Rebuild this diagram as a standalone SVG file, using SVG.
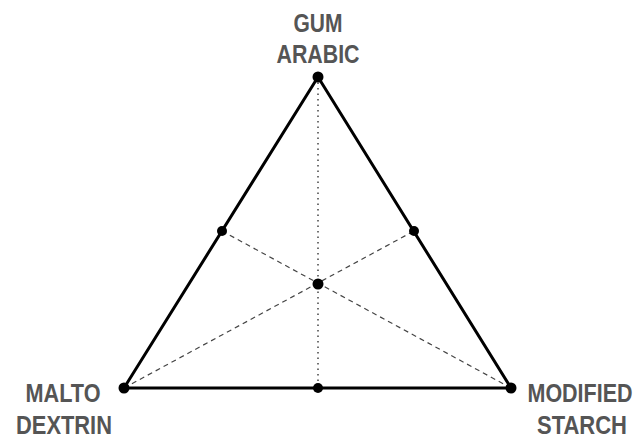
<svg xmlns="http://www.w3.org/2000/svg" width="638" height="439" viewBox="0 0 638 439">
<style>
.lbl{font-family:"Liberation Sans",Arial,sans-serif;font-weight:bold;font-size:26px;fill:#555;text-anchor:middle}
.dash{stroke:#444;stroke-width:1.2;stroke-dasharray:5 4;fill:none}
.dot{stroke:#444;stroke-width:1.5;stroke-dasharray:1.5 4;fill:none}
.tri{stroke:#000;stroke-width:3;fill:none;stroke-linejoin:round}
.pt{fill:#000}
</style>
<rect width="638" height="439" fill="#fff"/>
<g id="connectors">
<line class="dot" x1="318" y1="77" x2="318" y2="388"/>
<line class="dash" x1="124" y1="388" x2="414" y2="231"/>
<line class="dash" x1="511" y1="388" x2="222" y2="231"/>
<polygon class="tri" points="318,77 124,388 511,388"/>
</g>
<g id="gum-arabic">
<circle class="pt" cx="318" cy="77" r="5.5"/>
<text class="lbl" x="318" y="32" textLength="49" lengthAdjust="spacingAndGlyphs">GUM</text>
<text class="lbl" x="318" y="63" textLength="83" lengthAdjust="spacingAndGlyphs">ARABIC</text>
</g>
<g id="malto-dextrin">
<circle class="pt" cx="124" cy="388" r="5.5"/>
<text class="lbl" x="63" y="402" textLength="75" lengthAdjust="spacingAndGlyphs">MALTO</text>
<text class="lbl" x="64" y="434" textLength="96" lengthAdjust="spacingAndGlyphs">DEXTRIN</text>
</g>
<g id="modified-starch">
<circle class="pt" cx="511" cy="388" r="5.5"/>
<text class="lbl" x="580" y="402" textLength="105" lengthAdjust="spacingAndGlyphs">MODIFIED</text>
<text class="lbl" x="582" y="434" textLength="90" lengthAdjust="spacingAndGlyphs">STARCH</text>
</g>
<g id="mid-left"><circle class="pt" cx="222" cy="231" r="5"/></g>
<g id="mid-right"><circle class="pt" cx="414" cy="231" r="5"/></g>
<g id="mid-bottom"><circle class="pt" cx="318" cy="388" r="5"/></g>
<g id="centroid"><circle class="pt" cx="318" cy="284" r="5.5"/></g>
</svg>
